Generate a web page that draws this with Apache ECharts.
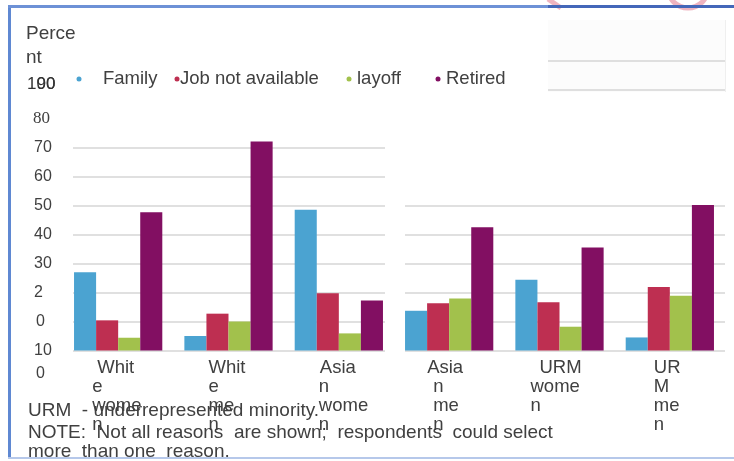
<!DOCTYPE html>
<html>
<head>
<meta charset="utf-8">
<script src="https://cdn.jsdelivr.net/npm/echarts@6/dist/echarts.min.js"></script>
<style>
  html, body { margin: 0; padding: 0; background: #ffffff; }
  #chart { width: 734px; height: 461px; }
</style>
</head>
<body>
<div id="chart"></div>
<script>
// ---- data ----
const categories = ['White women', 'White men', 'Asian women', 'Asian men', 'URM women', 'URM men'];
const categoryLabelLines = [
  ['Whit', 'e', 'wome', 'n'],
  ['Whit', 'e', 'me', 'n'],
  ['Asia', 'n', 'wome', 'n'],
  ['Asia', 'n', 'me', 'n'],
  ['URM', 'wome', 'n'],
  ['UR', 'M', 'me', 'n']
];
const seriesNames = ['Family', 'Job not available', 'layoff', 'Retired'];
const family          = [27.0, 5.0, 48.5, 13.7, 24.4, 4.5];
const jobNotAvailable = [10.4, 12.7, 19.7, 16.3, 16.6, 21.9];
const layoff          = [4.4, 10.0, 5.9, 17.9, 8.2, 18.9];
const retired         = [47.7, 72.1, 17.2, 42.5, 35.5, 50.2];
const yTickValues = [-10, 0, 10, 20, 30, 40, 50, 60, 70, 80, 90, 100];
const yTickLabels = ['0', '10', '0', '2', '30', '40', '50', '60', '70', '80', '90', '100'];
const titleText = 'Perce\nnt';
const noteLines = [
  'URM  - underrepresented minority.',
  'NOTE:  Not all reasons  are shown;  respondents  could select',
  'more  than one  reason.'
];

// ---- styling ----
const colors = ['#4ba3d1', '#be2f51', '#a2c14c', '#820f62'];
const SANS = '"Liberation Sans", Arial, sans-serif';
const SERIF = '"Liberation Serif", "Times New Roman", serif';
const TEXT = '#404040';
const GRID_LINE = { color: '#d6d6d6', width: 1.5 };

// shared vertical scale: 2.9 px per point, zero line at y = 350.5
const PX = 2.9, ZERO_Y = 350.5;
const yOf = v => ZERO_Y - v * PX;
const LABEL_X = 27; // left edge of the tick label column

// per-line indents of the wrapped category labels
const labelIndent = [[8, 3, 3, 3], [9, 9, 9, 9], [10, 9, 9, 9], [7, 13, 13, 13], [9, 0, 0], [13, 13, 13, 13]];
const xRich = {};
for (let i = 0; i <= 14; i++) {
  xRich['i' + i] = { fontFamily: SANS, fontSize: 18.5, lineHeight: 19, color: TEXT, padding: [0, 0, 0, i] };
}

// tick label styles (keyed by tick value)
const yRich = {
  t100: { fontFamily: SANS, fontSize: 17, color: '#333', padding: [48, 0, 0, 0] },
  t90:  { fontFamily: SANS, fontSize: 17, color: '#333', padding: [0, 0, 10, 9.5] },
  t80:  { fontFamily: SERIF, fontSize: 17, color: TEXT, padding: [0, 0, 0, 6] },
  tn:   { fontFamily: SANS, fontSize: 16, color: TEXT, padding: [0, 0, 0, 7] },
  t10:  { fontFamily: SANS, fontSize: 16, color: TEXT, padding: [0, 0, 0, 9] },
  tm10: { fontFamily: SANS, fontSize: 16, color: TEXT, padding: [0, 0, 12, 9] }
};
function yKey(v) {
  if (v === 100) return 't100';
  if (v === 90) return 't90';
  if (v === 80) return 't80';
  if (v === 10) return 't10';
  if (v === -10) return 'tm10';
  return 'tn';
}
function tickLabel(v) {
  const i = yTickValues.indexOf(v);
  return i < 0 ? '' : '{' + yKey(v) + '|' + yTickLabels[i] + '}';
}

// legend items: dot centre x and text start x
const legendPos = [[79, 103], [177, 180], [349, 357], [438, 446]];
const legends = seriesNames.map((name, i) => {
  const [dotX, textX] = legendPos[i];
  return {
    data: [name],
    selectedMode: false,
    icon: 'circle',
    itemWidth: 5,
    itemHeight: 5,
    left: dotX - 2.5,
    top: 69,
    padding: 0,
    textStyle: {
      fontFamily: SANS, fontSize: 18.5, lineHeight: 20, color: TEXT,
      padding: [0, 0, 0, textX - (dotX + 7.5)]
    }
  };
});

// gridline panels (value ranges and horizontal extents)
function lineGrid(left, width, min, max) {
  return { left: left, width: width, top: yOf(max), height: (max - min) * PX };
}
const grids = [
  { left: 63, width: 662, top: yOf(100), height: 110 * PX }, // bars
  lineGrid(73, 312, 0, 70),
  lineGrid(405, 320, 0, 50),
  lineGrid(548, 177, 90, 100)
];
const lineRanges = [[0, 70], [0, 50], [90, 100]];

const xAxes = [{
  type: 'category',
  gridIndex: 0,
  data: categories,
  axisLine: { show: false, onZero: false },
  axisTick: { show: false },
  axisLabel: {
    interval: 0,
    align: 'left',
    verticalAlign: 'top',
    // labels hang from the zero line, which sits 10 points above the grid bottom
    margin: 8 - 10 * PX,
    padding: [0, 0, 0, -29],
    formatter: (val, idx) => categoryLabelLines[idx]
      .map((s, j) => '{i' + labelIndent[idx][j] + '|' + s + '}').join('\n'),
    rich: xRich
  }
}];
const yAxes = [{
  type: 'value',
  gridIndex: 0,
  min: -10,
  max: 100,
  interval: 10,
  axisLine: { show: false },
  axisTick: { show: false },
  splitLine: { show: false },
  axisLabel: {
    align: 'left',
    margin: 63 - LABEL_X,
    showMinLabel: true,
    hideOverlap: false,
    // the top tick is labelled by the upper gridline panel
    formatter: v => (v === 100 ? '' : tickLabel(v)),
    rich: yRich
  }
}];
lineRanges.forEach(([min, max], k) => {
  const gi = k + 1;
  xAxes.push({ type: 'value', gridIndex: gi, show: false });
  const isTop = max === 100;
  yAxes.push({
    type: 'value', gridIndex: gi, min: min, max: max, interval: 10,
    axisLine: { show: false }, axisTick: { show: false },
    axisLabel: isTop ? {
      show: true,
      align: 'left',
      margin: grids[gi].left - LABEL_X,
      showMaxLabel: true,
      formatter: v => (v === 100 ? tickLabel(v) : ''),
      rich: yRich
    } : { show: false },
    splitLine: { show: true, lineStyle: GRID_LINE }
  });
});

const seriesData = [family, jobNotAvailable, layoff, retired];
const series = seriesNames.map((name, i) => ({
  name: name,
  type: 'bar',
  xAxisIndex: 0,
  yAxisIndex: 0,
  data: seriesData[i],
  barGap: '0%',
  barCategoryGap: '20%',
  itemStyle: { color: colors[i] },
  emphasis: { disabled: true }
}));

const chart = echarts.init(document.getElementById('chart'), null, { renderer: 'canvas' });
chart.setOption({
  animation: false,
  backgroundColor: '#ffffff',
  color: colors,
  title: {
    text: titleText,
    left: 26,
    top: 22,
    padding: 0,
    textStyle: { fontFamily: SANS, fontSize: 19, lineHeight: 24, fontWeight: 'normal', color: TEXT }
  },
  legend: legends,
  grid: grids,
  xAxis: xAxes,
  yAxis: yAxes,
  series: series,
  graphic: [
    // faint panel behind the upper-right gridlines
    { type: 'rect', z: -10, shape: { x: 548, y: 20, width: 177, height: 72 }, style: { fill: '#fcfcfc' } },
    { type: 'line', z: -10, shape: { x1: 725.5, y1: 20, x2: 725.5, y2: 92 }, style: { stroke: '#efefef', lineWidth: 1 } },
    // frame
    { type: 'rect', shape: { x: 8, y: 5, width: 3, height: 454 }, style: { fill: '#5f88d2' } },
    { type: 'rect', shape: { x: 8, y: 5, width: 540, height: 3 }, style: { fill: '#6d91d6' } },
    { type: 'rect', shape: { x: 548, y: 5, width: 186, height: 3 }, style: { fill: '#4467b9' } },
    { type: 'rect', shape: { x: 8, y: 457, width: 726, height: 2 }, style: { fill: '#b6c8ea' } },
    // pink marks along the top edge
    { type: 'arc', z: -5, shape: { cx: 688, cy: -12, r: 20, startAngle: 0, endAngle: Math.PI }, style: { stroke: 'rgba(226,130,150,0.6)', lineWidth: 5, fill: null } },
    { type: 'line', z: -5, shape: { x1: 548, y1: -1, x2: 561, y2: 8 }, style: { stroke: 'rgba(226,130,150,0.6)', lineWidth: 5 } },
    // footnotes
    ...noteLines.map((t, i) => ({
      type: 'text',
      style: {
        text: t,
        x: 28,
        y: [411, 433, 452][i],
        font: '19px ' + SANS,
        fill: TEXT,
        verticalAlign: 'middle'
      }
    }))
  ]
});
</script>
</body>
</html>
